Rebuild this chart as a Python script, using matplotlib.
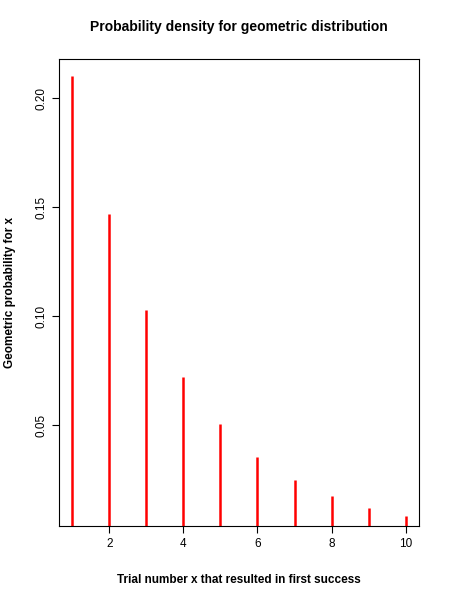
import matplotlib
matplotlib.use("Agg")
import matplotlib.pyplot as plt

trials = [1, 2, 3, 4, 5, 6, 7, 8, 9, 10]
probs = [0.21, 0.147, 0.1029, 0.07203, 0.05042, 0.03529, 0.02471, 0.01729, 0.0121, 0.00847]

plt.rcParams["font.family"] = "Liberation Sans"
fig = plt.figure(figsize=(4.5, 6), dpi=100)
ax = fig.add_axes([0.131, 0.123, 0.80, 0.779])
ax.vlines(trials, 0, probs, color="red", linewidth=1.8)
ax.set_xlim(0.64, 10.36)
ax.set_ylim(0.0036, 0.218)
ax.set_xticks([2, 4, 6, 8, 10])
ax.set_yticks([0.05, 0.10, 0.15, 0.20])
ax.set_yticklabels(["0.05", "0.10", "0.15", "0.20"], rotation=90, va="center")
ax.tick_params(labelsize=8.5, direction="out", length=5)
ax.set_title("Probability density for geometric distribution", fontsize=10, fontweight="bold", pad=20)
ax.set_xlabel("Trial number x that resulted in first success", fontsize=8.5, fontweight="bold", labelpad=17)
ax.set_ylabel("Geometric probability for x", fontsize=8.5, fontweight="bold", labelpad=14)
fig.savefig("out.png", dpi=100)
